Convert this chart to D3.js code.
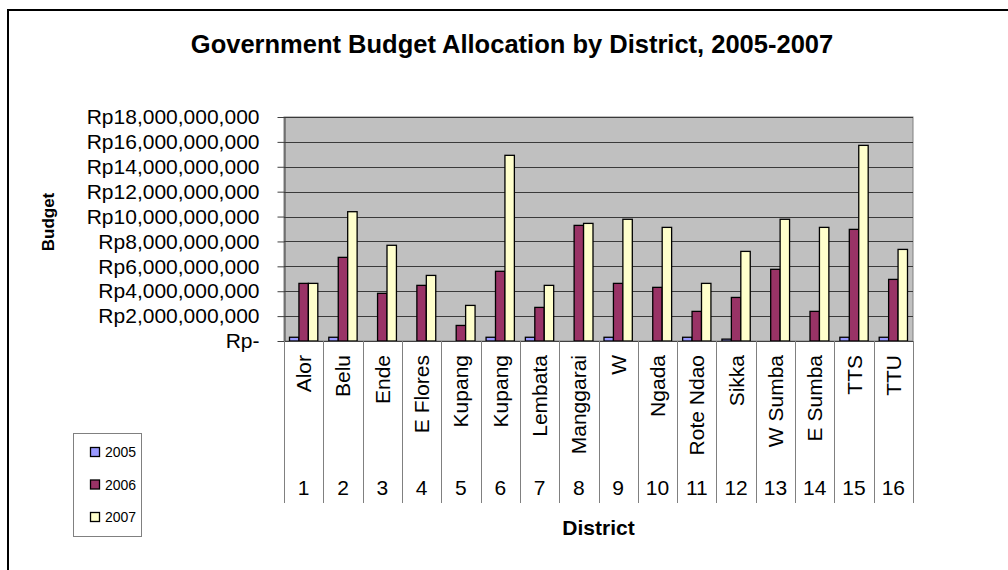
<!DOCTYPE html>
<html>
<head>
<meta charset="utf-8">
<script src="https://cdn.jsdelivr.net/npm/d3@7"></script>
<style>
  html, body { margin: 0; padding: 0; background: #fff; }
  svg { display: block; font-family: "Liberation Sans", Arial, Helvetica, sans-serif; }
</style>
</head>
<body>
<svg id="chart" width="1008" height="570"></svg>
<script>
// District names and their ordinal numbers (two-level category axis)
const districts = ["Alor", "Belu", "Ende", "E Flores", "Kupang", "Kupang", "Lembata", "Manggarai",
                   "W", "Ngada", "Rote Ndao", "Sikka", "W Sumba", "E Sumba", "TTS", "TTU"];
const districtNumbers = ["1", "2", "3", "4", "5", "6", "7", "8", "9", "10", "11", "12", "13", "14", "15", "16"];
const years = ["2005", "2006", "2007"];

// Budget per district, in Rupiah
const budget2005 = [0.30e9, 0.30e9, 0, 0, 0, 0.30e9, 0.30e9, 0, 0.30e9, 0, 0.30e9, 0.15e9, 0, 0, 0.30e9, 0.30e9];
const budget2006 = [4.63e9, 6.72e9, 3.83e9, 4.47e9, 1.25e9, 5.60e9, 2.70e9, 9.29e9, 4.63e9, 4.31e9, 2.38e9, 3.50e9, 5.76e9, 2.38e9, 8.97e9, 4.95e9];
const budget2007 = [4.63e9, 10.39e9, 7.69e9, 5.27e9, 2.86e9, 14.92e9, 4.47e9, 9.45e9, 9.78e9, 9.13e9, 4.63e9, 7.20e9, 9.78e9, 9.13e9, 15.72e9, 7.36e9];

// Value axis ticks and their labels
const yTicks = [0, 2e9, 4e9, 6e9, 8e9, 10e9, 12e9, 14e9, 16e9, 18e9];
const yTickLabels = ["Rp-", "Rp2,000,000,000", "Rp4,000,000,000", "Rp6,000,000,000", "Rp8,000,000,000",
                     "Rp10,000,000,000", "Rp12,000,000,000", "Rp14,000,000,000", "Rp16,000,000,000", "Rp18,000,000,000"];

const seriesColors = ["#9999ff", "#993366", "#ffffcc"];
const seriesValues = [budget2005, budget2006, budget2007];

const svg = d3.select("#chart");

// Chart frame (runs off the right and bottom edges)
svg.append("rect")
  .attr("x", 8).attr("y", 10).attr("width", 1020).attr("height", 580)
  .attr("fill", "#fff").attr("stroke", "#000").attr("stroke-width", 2);

const plot = { left: 284, right: 913, top: 117, bottom: 341 };

const x0 = d3.scaleBand().domain(d3.range(districts.length)).range([plot.left, plot.right]);
const barSpan = x0.bandwidth() * 0.72;
const x1 = d3.scaleBand().domain(years)
  .range([(x0.bandwidth() - barSpan) / 2, (x0.bandwidth() + barSpan) / 2]);
const y = d3.scaleLinear().domain([0, 18e9]).range([plot.bottom, plot.top]);

// Plot background
svg.append("rect")
  .attr("x", plot.left).attr("y", plot.top)
  .attr("width", plot.right - plot.left).attr("height", plot.bottom - plot.top)
  .attr("fill", "#c0c0c0").attr("stroke", "#808080").attr("stroke-width", 1);

// Horizontal gridlines
svg.append("g")
  .selectAll("line")
  .data(yTicks.slice(1))
  .join("line")
  .attr("x1", plot.left).attr("x2", plot.right)
  .attr("y1", d => Math.round(y(d)) + 0.5).attr("y2", d => Math.round(y(d)) + 0.5)
  .attr("stroke", "#3a3a3a").attr("stroke-width", 1);

// Value axis
const yAxis = d3.axisLeft(y)
  .tickValues(yTicks)
  .tickFormat((d, i) => yTickLabels[i])
  .tickSizeInner(7).tickSizeOuter(0).tickPadding(18);
const yAxisG = svg.append("g")
  .attr("transform", `translate(${plot.left + 0.5},0)`)
  .call(yAxis);
yAxisG.select(".domain").attr("stroke", "#404040");
yAxisG.selectAll(".tick line").attr("stroke", "#404040");
yAxisG.selectAll(".tick text")
  .attr("font-size", 21).attr("fill", "#000")
  .attr("font-family", "'Liberation Sans', Arial, sans-serif");

// Bars
const groups = svg.append("g")
  .selectAll("g")
  .data(districts.map((d, i) => i))
  .join("g")
  .attr("transform", i => `translate(${x0(i)},0)`);

groups.selectAll("rect")
  .data(i => years.map((yr, s) => ({ yr, s, v: seriesValues[s][i] })).filter(d => d.v > 0))
  .join("rect")
  .attr("x", d => x1(d.yr))
  .attr("width", x1.bandwidth())
  .attr("y", d => y(d.v))
  .attr("height", d => y(0) - y(d.v))
  .attr("fill", d => seriesColors[d.s])
  .attr("stroke", "#000").attr("stroke-width", 1.3);

// Category axis baseline
svg.append("line")
  .attr("x1", plot.left).attr("x2", plot.right)
  .attr("y1", plot.bottom + 0.5).attr("y2", plot.bottom + 0.5)
  .attr("stroke", "#404040");

// Category divider lines running down through both label levels
const dividers = d3.range(districts.length + 1).map(i => i < districts.length ? x0(i) : plot.right);
svg.append("g")
  .selectAll("line")
  .data(dividers)
  .join("line")
  .attr("x1", d => Math.round(d) + 0.5).attr("x2", d => Math.round(d) + 0.5)
  .attr("y1", plot.bottom).attr("y2", 503)
  .attr("stroke", "#808080").attr("stroke-width", 1);

// District names, rotated
svg.append("g")
  .selectAll("text")
  .data(districts)
  .join("text")
  .attr("transform", (d, i) => `translate(${x0(i) + x0.bandwidth() / 2 + 7.5},355) rotate(-90)`)
  .attr("text-anchor", "end")
  .attr("font-size", 21)
  .text(d => d);

// District numbers
svg.append("g")
  .selectAll("text")
  .data(districtNumbers)
  .join("text")
  .attr("x", (d, i) => x0(i) + x0.bandwidth() / 2)
  .attr("y", 495)
  .attr("text-anchor", "middle")
  .attr("font-size", 21)
  .text(d => d);

// Titles
svg.append("text")
  .attr("x", 512).attr("y", 53)
  .attr("text-anchor", "middle")
  .attr("font-size", 25.5).attr("font-weight", "bold")
  .text("Government Budget Allocation by District, 2005-2007");

svg.append("text")
  .attr("transform", "translate(54,222) rotate(-90)")
  .attr("text-anchor", "middle")
  .attr("font-size", 17).attr("font-weight", "bold")
  .text("Budget");

svg.append("text")
  .attr("x", (plot.left + plot.right) / 2).attr("y", 535)
  .attr("text-anchor", "middle")
  .attr("font-size", 21).attr("font-weight", "bold")
  .text("District");

// Legend
const legend = svg.append("g");
legend.append("rect")
  .attr("x", 73.5).attr("y", 433.5).attr("width", 68).attr("height", 103)
  .attr("fill", "#fff").attr("stroke", "#808080").attr("stroke-width", 1);
const legendRowY = d3.scalePoint().domain(years).range([452, 517]);
const items = legend.selectAll("g.item")
  .data(years)
  .join("g").attr("class", "item")
  .attr("transform", d => `translate(0,${legendRowY(d)})`);
items.append("rect")
  .attr("x", 90.5).attr("y", -4.5).attr("width", 9).attr("height", 9)
  .attr("fill", (d, i) => seriesColors[i])
  .attr("stroke", "#000").attr("stroke-width", 1.3);
items.append("text")
  .attr("x", 105).attr("y", 5)
  .attr("font-size", 14)
  .text(d => d);
</script>
</body>
</html>
